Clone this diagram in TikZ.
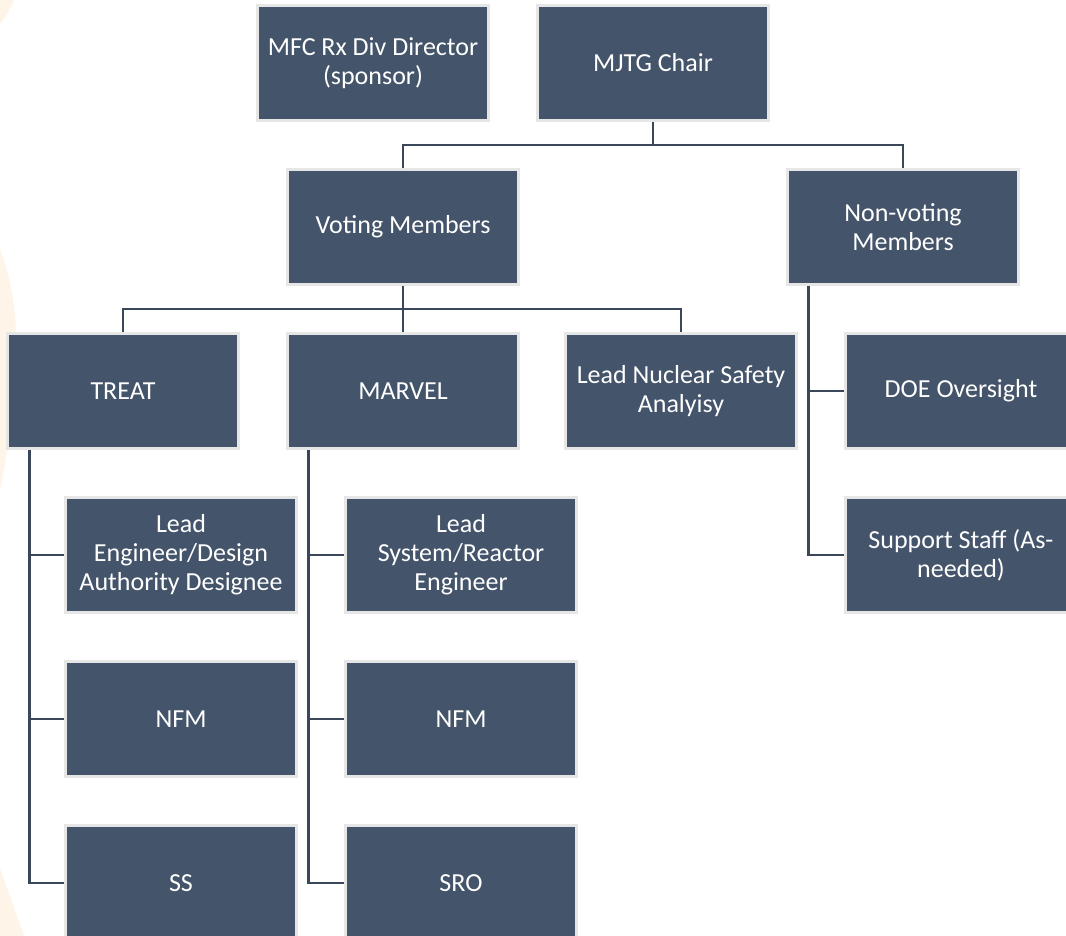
\documentclass[tikz,border=0pt]{standalone}
\usepackage{fontspec}
\setmainfont{Carlito}
\definecolor{boxfill}{HTML}{44546A}
\definecolor{boxedge}{HTML}{E6E6E6}
\definecolor{conncol}{HTML}{3A475A}
\definecolor{peach}{HTML}{FEF5E8}
\begin{document}
\begin{tikzpicture}[x=1pt,y=-1pt,
  orgbox/.style={rectangle, draw=boxedge, line width=2.5pt, fill=boxfill,
    minimum width=231pt, minimum height=115pt, inner sep=0pt,
    text=white, align=center, font=\fontsize{26}{29}\selectfont},
  conn/.style={draw=conncol, line width=2.8pt}]
\useasboundingbox (0,0) rectangle (1066,936);
\clip (0,0) rectangle (1066,936);
\fill[white] (0,0) rectangle (1066,936);
% faint background shapes
\fill[peach] (0,0) -- (14,0) .. controls (10,10) and (5,18) .. (0,24) -- cycle;
\fill[peach] (0,250) .. controls (12,280) and (18,320) .. (16,360) .. controls (14,410) and (8,450) .. (0,490) -- cycle;
\fill[peach] (0,868) -- (24,936) -- (0,936) -- cycle;
% boxes
\node[orgbox] (mfc) at (373,63) {MFC Rx Div Director\\(sponsor)};
\node[orgbox] (chair) at (653,63) {MJTG Chair};
\node[orgbox] (voting) at (403,227) {Voting Members};
\node[orgbox] (nonvoting) at (903,227) {Non-voting\\Members};
\node[orgbox] (treat) at (123,391) {TREAT};
\node[orgbox] (marvel) at (403,391) {MARVEL};
\node[orgbox] (lns) at (681,391) {Lead Nuclear Safety\\Analyisy};
\node[orgbox] (doe) at (961,391) {DOE Oversight};
\node[orgbox] (support) at (961,555) {Support Staff (As-\\needed)};
\node[orgbox] (tlead) at (181,555) {Lead\\Engineer/Design\\Authority Designee};
\node[orgbox] (tnfm) at (181,719) {NFM};
\node[orgbox] (tss) at (181,883) {SS};
\node[orgbox] (mlead) at (461,555) {Lead\\System/Reactor\\Engineer};
\node[orgbox] (mnfm) at (461,719) {NFM};
\node[orgbox] (msro) at (461,883) {SRO};
% buses
\coordinate (busa) at (653,145);
\coordinate (busb) at (403,309);
\draw[conn] (chair.south) -- (busa);
\draw[conn] (voting.north) |- (busa) -| (nonvoting.north);
\draw[conn] (voting.south) -- (busb);
\draw[conn] (treat.north) |- (busb) -| (lns.north);
\draw[conn] (marvel.north) -- (busb);
% children
\draw[conn] ([xshift=23pt]treat.south west) |- (tlead.west);
\draw[conn] ([xshift=23pt]treat.south west) |- (tnfm.west);
\draw[conn] ([xshift=23pt]treat.south west) |- (tss.west);
\draw[conn] ([xshift=22pt]marvel.south west) |- (mlead.west);
\draw[conn] ([xshift=22pt]marvel.south west) |- (mnfm.west);
\draw[conn] ([xshift=22pt]marvel.south west) |- (msro.west);
\draw[conn] ([xshift=22pt]nonvoting.south west) |- (doe.west);
\draw[conn] ([xshift=22pt]nonvoting.south west) |- (support.west);
\end{tikzpicture}
\end{document}
